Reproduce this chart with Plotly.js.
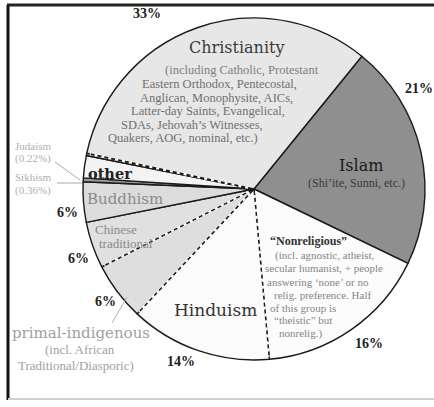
<!DOCTYPE html>
<html>
<head>
<meta charset="utf-8">
<script src="https://cdn.plot.ly/plotly-3.0.1.min.js"></script>
<style>html,body{margin:0;padding:0;background:#fff;}#chart{width:434px;height:407px;}</style>
</head>
<body>
<div id="chart"></div>
<script>
// Slices in clockwise order, starting at the Christianity/Islam boundary
var religions = ['Islam', 'Nonreligious', 'Hinduism', 'primal-indigenous', 'Chinese traditional', 'Buddhism', 'Sikhism', 'other', 'Judaism', 'Christianity'];
var shares = [21.3, 16.4, 13.4, 5.5, 4.4, 3.8, 0.36, 2.1, 0.22, 32.5];
var sliceColors = ['#8f8f8f', '#fcfcfc', '#fbfbfb', '#dedede', '#e0e0e0', '#dcdcdc', '#9a9a9a', '#f3f3f3', '#dddddd', '#e7e7e7'];
var pctLabels = ['33%', '21%', '16%', '14%', '6%', '6%', '6%'];
var dashedAfter = ['Nonreligious', 'Hinduism', 'primal-indigenous', 'Judaism'];

var W = 434, H = 407;
var CX = 254, CY = 189, R = 171, ROT = 39.1;
function px(x) { return x / W; }
function py(y) { return 1 - y / H; }
var SERIF = 'Liberation Serif';
var BIG = 'DejaVu Serif';

function txt(t, x, y, size, color, opts) {
  opts = opts || {};
  return {
    text: t, xref: 'paper', yref: 'paper', x: px(x), y: py(y),
    xanchor: opts.xanchor || 'center', yanchor: 'middle', showarrow: false,
    font: {family: opts.family || SERIF, size: size, color: color, weight: opts.bold ? 'bold' : 'normal'}
  };
}

var annotations = [
  txt(pctLabels[0], 147, 14, 14, '#222', {bold: true}),
  txt(pctLabels[1], 419, 88, 14, '#222', {bold: true}),
  txt(pctLabels[2], 369, 343, 14, '#222', {bold: true}),
  txt(pctLabels[3], 181, 361, 14, '#222', {bold: true}),
  txt(pctLabels[4], 67, 212, 14, '#222', {bold: true}),
  txt(pctLabels[5], 78, 258, 14, '#222', {bold: true}),
  txt(pctLabels[6], 105, 301, 14, '#222', {bold: true}),

  txt('Christianity', 237, 48, 16, '#3a3a3a', {family: BIG}),
  txt('(including Catholic, Protestant', 242, 70, 12.5, '#808080'),
  txt('Eastern Orthodox, Pentecostal,', 219, 84, 12.5, '#707070'),
  txt('Anglican, Monophysite, AICs,', 216, 98, 12.5, '#707070'),
  txt('Latter-day Saints, Evangelical,', 208, 111, 12.5, '#707070'),
  txt('SDAs, Jehovah\u2019s Witnesses,', 192, 125, 12.5, '#707070'),
  txt('Quakers, AOG, nominal, etc.)', 183, 138, 12.5, '#707070'),

  txt('Islam', 361, 165, 16, '#1a1a1a', {family: BIG}),
  txt('(Shi\u2019ite, Sunni, etc.)', 356, 183, 12, '#3a3a3a'),

  txt('other', 110, 173, 14.5, '#222', {family: BIG, bold: true}),
  txt('Buddhism', 125, 199, 15, '#8a8a8a', {family: BIG}),
  txt('Chinese', 93, 229, 13, '#8a8a8a', {xanchor: 'left'}),
  txt('traditional', 97, 243, 13, '#8a8a8a', {xanchor: 'left'}),

  txt('Judaism', 33, 146, 11, '#b0b0b0'),
  txt('(0.22%)', 33, 158, 11, '#b0b0b0'),
  txt('Sikhism', 33, 177, 11, '#b0b0b0'),
  txt('(0.36%)', 33, 190, 11, '#b0b0b0'),

  txt('Hinduism', 215, 310, 17, '#333', {family: BIG}),

  txt('primal-indigenous', 81, 333, 15, '#a0a0a0', {family: BIG}),
  txt('(incl. African', 80, 349, 13, '#a0a0a0'),
  txt('Traditional/Diasporic)', 76, 365, 13, '#a0a0a0'),

  txt('\u201cNonreligious\u201d', 268, 241, 12, '#333', {xanchor: 'left', bold: true}),
  txt('(incl. agnostic, atheist,', 273, 255, 11, '#858585', {xanchor: 'left'}),
  txt('secular humanist, + people', 263, 268, 11, '#858585', {xanchor: 'left'}),
  txt('answering \u2018none\u2019 or no', 265, 282, 11, '#858585', {xanchor: 'left'}),
  txt('relig. preference. Half', 272, 295, 11, '#858585', {xanchor: 'left'}),
  txt('of this group is', 268, 308, 11, '#858585', {xanchor: 'left'}),
  txt('\u201ctheistic\u201d but', 272, 320, 11, '#858585', {xanchor: 'left'}),
  txt('nonrelig.)', 277, 333, 11, '#858585', {xanchor: 'left'})
];

function seg(x0, y0, x1, y1, color, width, dash) {
  return {type: 'line', xref: 'paper', yref: 'paper', x0: px(x0), y0: py(y0), x1: px(x1), y1: py(y1),
          line: {color: color, width: width, dash: dash || 'solid'}};
}

var shapes = [
  seg(8, 5, 8, 400, '#111', 3),
  seg(7, 5, 434, 5, '#222', 3),
  seg(8, 399, 434, 399, '#d0d0d0', 2),
  seg(55, 162, 80, 180, '#aaa', 1),
  seg(57, 183, 82, 183, '#aaa', 1),
  seg(112, 323, 127, 297, '#b0b0b0', 1)
];

// Break some slice edges into dashes (edges found from the shares)
var total = shares.reduce(function (a, b) { return a + b; }, 0);
var cum = 0;
for (var i = 0; i < shares.length; i++) {
  cum += shares[i];
  if (dashedAfter.indexOf(religions[i]) >= 0) {
    var a = (ROT + 360 * cum / total) * Math.PI / 180;
    var ex = CX + (R - 3) * Math.sin(a), ey = CY - (R - 3) * Math.cos(a);
    var sx = CX + 6 * Math.sin(a), sy = CY - 6 * Math.cos(a);
    shapes.push(seg(sx, sy, ex, ey, '#ffffff', 2.2, '3px,4px'));
  }
}

var data = [{
  type: 'pie',
  labels: religions,
  values: shares,
  sort: false,
  direction: 'clockwise',
  rotation: ROT,
  textinfo: 'none',
  hoverinfo: 'label+percent',
  marker: {colors: sliceColors, line: {color: '#1a1a1a', width: 1.4}},
  domain: {x: [px(CX - R), px(CX + R)], y: [py(CY + R), py(CY - R)]},
  showlegend: false
}];

var layout = {
  width: W, height: H,
  margin: {l: 0, r: 0, t: 0, b: 0},
  paper_bgcolor: '#ffffff',
  plot_bgcolor: '#ffffff',
  showlegend: false,
  annotations: annotations,
  shapes: shapes
};

Plotly.newPlot('chart', data, layout, {displayModeBar: false, staticPlot: true});
</script>
</body>
</html>
